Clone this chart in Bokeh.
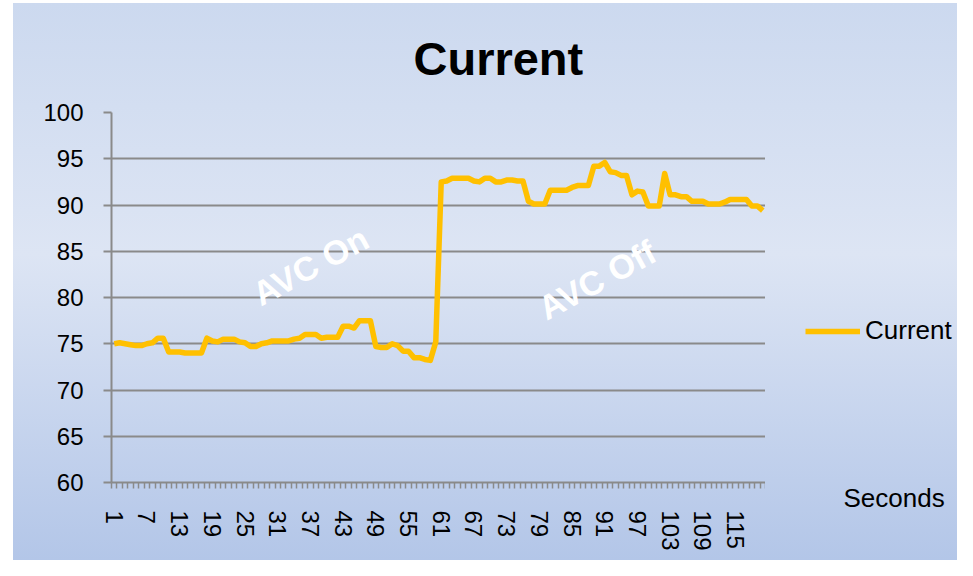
from bokeh.plotting import figure
from bokeh.layouts import row
from bokeh.models import FixedTicker, Label, Legend, LegendItem, InlineStyleSheet, Range1d, Title
from bokeh.embed import file_html
from bokeh.resources import INLINE

seconds = list(range(1, 121))
current = [
    75.0, 75.1, 75.0, 74.9, 74.8, 74.8, 75.0, 75.1, 75.6, 75.6,
    74.1, 74.1, 74.1, 74.0, 74.0, 74.0, 74.0, 75.6, 75.3, 75.2,
    75.5, 75.5, 75.5, 75.2, 75.1, 74.7, 74.7, 75.0, 75.1, 75.3,
    75.3, 75.3, 75.3, 75.5, 75.6, 76.0, 76.0, 76.0, 75.6, 75.7,
    75.7, 75.7, 76.9, 76.9, 76.7, 77.5, 77.5, 77.5, 74.7, 74.6,
    74.6, 75.0, 74.8, 74.2, 74.2, 73.5, 73.5, 73.3, 73.2, 75.2,
    92.5, 92.6, 92.9, 92.9, 92.9, 92.9, 92.6, 92.5, 92.9, 92.9,
    92.5, 92.5, 92.7, 92.7, 92.6, 92.6, 90.4, 90.1, 90.1, 90.1,
    91.6, 91.6, 91.6, 91.6, 91.9, 92.1, 92.1, 92.1, 94.2, 94.2,
    94.6, 93.6, 93.5, 93.2, 93.2, 91.1, 91.5, 91.4, 89.9, 89.9,
    89.9, 93.4, 91.1, 91.1, 90.9, 90.9, 90.4, 90.4, 90.4, 90.1,
    90.1, 90.1, 90.3, 90.6, 90.6, 90.6, 90.6, 89.9, 89.9, 89.4,
]
y_ticks = [60, 65, 70, 75, 80, 85, 90, 95, 100]
x_ticks = [1, 7, 13, 19, 25, 31, 37, 43, 49, 55, 61, 67, 73, 79, 85, 91, 97, 103, 109, 115]
annotations = [("AVC On", 37.0, 83.4), ("AVC Off", 89.6, 81.9)]
series_name = "Current"
x_title = "Seconds"

FONT = "Liberation Sans"
GRAY = "#8a8a8a"
LINE = "#FFC000"
GRAD = "linear-gradient(to bottom, #ccd9ef 0%, #dde5f4 45%, #b3c6e8 100%)"

H = 560
p = figure(width=765, height=H, output_backend="svg", toolbar_location=None,
           x_range=Range1d(0.5, len(seconds) + 0.5), y_range=Range1d(60, 100),
           min_border_left=111, min_border_right=0, min_border_top=112, min_border_bottom=78)
p.stylesheets = [InlineStyleSheet(css=(
    ":host { background-color: white; background-image: %s;"
    " background-repeat: no-repeat; background-position: 13px 3px;"
    " background-size: calc(100%% - 13px) calc(100%% - 3px); }" % GRAD))]
p.border_fill_color = None
p.background_fill_color = None
p.outline_line_color = None

p.title.text = "Current"
p.title.text_font = FONT
p.title.text_font_size = "47px"
p.title.text_font_style = "bold"
p.title.text_color = "black"
p.title.align = "left"
p.title.offset = 302
p.title.standoff = 52
p.title.vertical_align = "top"

p.line(seconds, current, line_color=LINE, line_width=5.5, line_join="round")

# y axis
p.yaxis.ticker = FixedTicker(ticks=y_ticks)
p.yaxis.major_label_text_font = FONT
p.yaxis.major_label_text_font_size = "24px"
p.yaxis.major_label_text_color = "black"
p.yaxis.major_tick_out = 8
p.yaxis.major_tick_in = 0
p.yaxis.minor_tick_line_color = None
p.yaxis.axis_line_color = GRAY
p.yaxis.axis_line_width = 2
p.yaxis.major_tick_line_color = GRAY
p.yaxis.major_tick_line_width = 2
p.yaxis.major_label_standoff = 20

# x axis
boundaries = [i + 0.5 for i in range(0, len(seconds) + 1)]
p.xaxis.ticker = FixedTicker(ticks=x_ticks, minor_ticks=boundaries)
p.xaxis.major_tick_line_color = None
p.xaxis.major_tick_out = 6
p.xaxis.major_tick_in = 0
p.xaxis.minor_tick_out = 6
p.xaxis.minor_tick_in = 0
p.xaxis.minor_tick_line_color = GRAY
p.xaxis.minor_tick_line_width = 1.5
p.xaxis.axis_line_color = GRAY
p.xaxis.axis_line_width = 2
p.xaxis.major_label_orientation = "vertical"
p.xaxis.major_label_text_font = FONT
p.xaxis.major_label_text_font_size = "24px"
p.xaxis.major_label_text_color = "black"
p.xaxis.major_label_standoff = 22

p.xgrid.grid_line_color = None
p.ygrid.grid_line_color = GRAY
p.ygrid.grid_line_width = 2

for txt, xx, yy in annotations:
    p.add_layout(Label(x=xx, y=yy, text=txt, angle=0.5, text_align="center", text_baseline="middle",
                       text_font=FONT, text_font_size="34px", text_font_style="bold", text_color="white"))

# legend / axis-title strip on the right
q = figure(width=192, height=H, output_backend="svg", toolbar_location=None,
           x_range=Range1d(0, 1), y_range=Range1d(0, 1), x_axis_type=None, y_axis_type=None,
           min_border_left=0, min_border_right=0, min_border_top=0, min_border_bottom=0)
q.stylesheets = [InlineStyleSheet(css=(
    ":host { background-color: white; background-image: %s;"
    " background-repeat: no-repeat; background-position: 0px 3px;"
    " background-size: 100%% calc(100%% - 3px); }" % GRAD))]
q.border_fill_color = None
q.background_fill_color = None
q.outline_line_color = None
q.grid.visible = False

# legend key: same series, outside this strip's ranges so only the key shows
sample = q.line(seconds, current, line_color=LINE, line_width=5.5)

q.add_layout(Legend(items=[LegendItem(label=series_name, renderers=[sample])],
                    location=(40, 136), glyph_width=55, glyph_height=30, label_height=30,
                    label_standoff=5, padding=0, margin=0, spacing=0,
                    border_line_color=None, background_fill_alpha=0,
                    label_text_font=FONT, label_text_font_size="26px", label_text_color="black"))

q.add_layout(Title(text=x_title, align="left", offset=78, vertical_align="top", standoff=0,
                   text_font=FONT, text_font_size="26px", text_font_style="normal",
                   text_color="black"), "below")

layout = row(p, q, spacing=0)
open("out.html", "w").write(file_html(layout, INLINE))
